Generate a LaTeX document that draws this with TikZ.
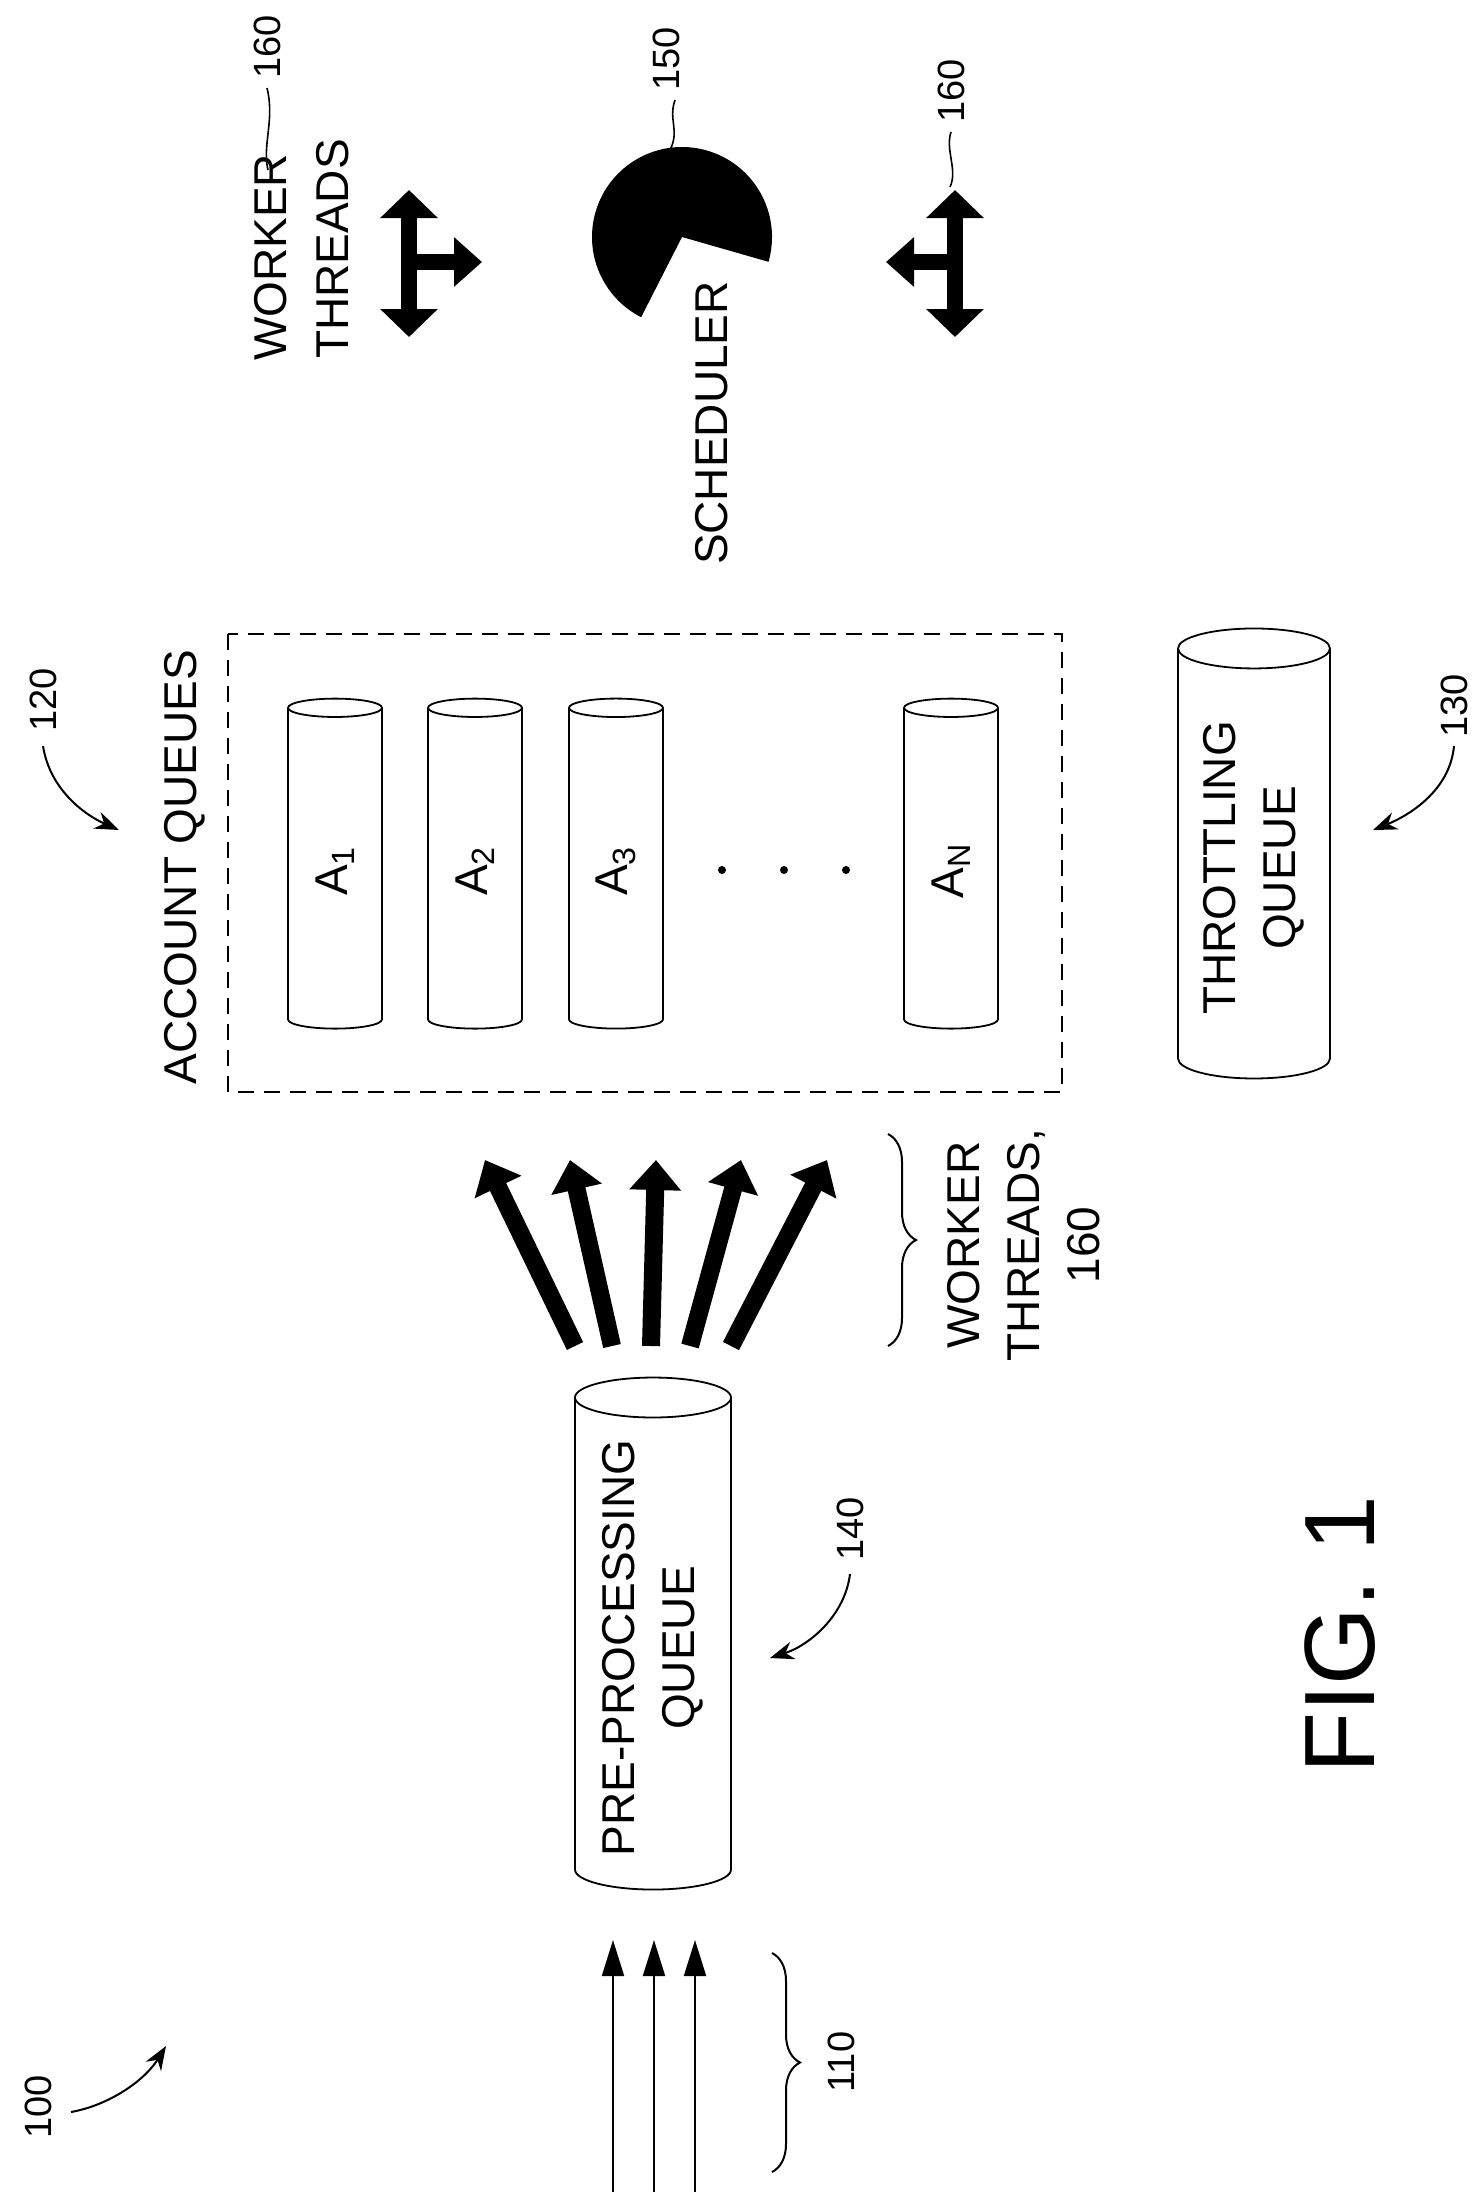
\documentclass[tikz,border=0pt]{standalone}
\usepackage{fontspec}
\setmainfont{Liberation Sans}
\usetikzlibrary{
  arrows.meta,
  positioning,
  calc,
  shapes.geometric,
  decorations.pathreplacing
}
\tikzset{
  queue/.style      = {cylinder, draw, line width=0.9pt, rotate=90, aspect=0.35,
                       align=center, font=\fontsize{23}{30}\selectfont},
  caption/.style    = {rotate=90, font=\fontsize{23}{30}\selectfont, align=center},
  refnum/.style     = {rotate=90, font=\fontsize{19}{22}\selectfont},
  refarrow/.style   = {line width=1pt, -{Stealth[length=12pt,width=9pt]}},
  thread/.style     = {line width=9pt, -{Triangle[length=15pt,width=25pt]}},
  bithread/.style   = {line width=8pt, {Triangle[length=14pt,width=28pt]}-{Triangle[length=14pt,width=28pt]}},
  branch/.style     = {line width=8pt, -{Triangle[length=14pt,width=24pt]}},
  input/.style      = {line width=1pt, -{Triangle[length=18pt,width=11pt]}},
  squiggle/.style   = {line width=0.8pt},
  curly/.style      = {line width=1pt, decorate, decoration={brace, amplitude=14pt}}
}
\begin{document}
\begin{tikzpicture}[x=0.5pt, y=-0.5pt]
  \useasboundingbox (0,0) rectangle (1482,2192);

  % Scheduler and worker threads
  \coordinate (sched) at (682,237);
  \fill (sched) -- ++(16:90) arc[start angle=16, end angle=-243, radius=90] -- cycle;
  \node[caption, anchor=west] (schedtxt) at (712,572) {SCHEDULER};
  \draw[squiggle] (670,150) .. controls (680,130) and (668,120) .. (675,100);
  \node[refnum, anchor=west] (n150) at (666,98) {150};

  \coordinate (lwtop) at (409,190);
  \coordinate (lwbot) at (409,337);
  \coordinate (lwmid) at (409,262);
  \coordinate (lwout) at (482,262);
  \draw[bithread] (lwbot) -- (lwtop);
  \draw[branch] (lwmid) -- (lwout);
  \node[caption, anchor=west] (wtxt) at (271,368) {WORKER};
  \node[caption, anchor=west] (ttxt) at (333,366) {THREADS};
  \draw[squiggle] (268,170) .. controls (262,145) and (275,120) .. (267,88);
  \node[refnum, anchor=west] (n160a) at (267,86) {160};

  \coordinate (rwtop) at (955,190);
  \coordinate (rwbot) at (955,337);
  \coordinate (rwmid) at (955,262);
  \coordinate (rwout) at (886,262);
  \draw[bithread] (rwbot) -- (rwtop);
  \draw[branch] (rwmid) -- (rwout);
  \draw[squiggle] (950,187) .. controls (958,170) and (945,150) .. (951,132);
  \node[refnum, anchor=west] (n160b) at (951,130) {160};

  % Account queues
  \draw[line width=1pt, dash pattern=on 8pt off 5pt] (228,634) rectangle (1062,1092);
  \node[caption] (acctxt) at (185,867) {ACCOUNT QUEUES};
  \node[queue, minimum height=165pt, minimum width=47pt] (a1) at (335,871) {A\textsubscript{1}};
  \node[queue, minimum height=165pt, minimum width=47pt] (a2) at (475,871) {A\textsubscript{2}};
  \node[queue, minimum height=165pt, minimum width=47pt] (a3) at (616,871) {A\textsubscript{3}};
  \node[queue, minimum height=165pt, minimum width=47pt] (an) at (951,871) {A\textsubscript{N}};
  \foreach \x in {722,784,846}
    \fill (\x,870) circle (4);
  \node[refnum] (n120) at (43,700) {120};
  \draw[refarrow] (43,746) .. controls (50,790) and (85,815) .. (119,830);

  % Throttling queue
  \node[queue, minimum height=225pt, minimum width=76pt] (thr) at (1254,868)
    {THROTTLING\\QUEUE};
  \node[refnum] (n130) at (1454,706) {130};
  \draw[refarrow] (1454,746) .. controls (1450,790) and (1410,815) .. (1373,830);

  % Worker threads into the account queues
  \node[queue, minimum height=256pt, minimum width=78pt] (pre) at (653,1648)
    {PRE-PROCESSING\\QUEUE};
  \foreach \s/\t in {575/485, 612/570, 651/656, 690/741, 731/827}
    \draw[thread] (\s,1346) -- (\t,1160);
  \draw[curly] (888,1134) -- (888,1346);
  \node[caption] (wt160) at (1024,1245) {WORKER\\THREADS,\\160};

  % Pre-processing queue and incoming requests
  \node[refnum] (n140) at (850,1529) {140};
  \draw[refarrow] (850,1574) .. controls (845,1615) and (810,1645) .. (770,1658);
  \foreach \x in {613,654,695}
    \draw[input] (\x,2192) -- (\x,1940);
  \draw[curly] (772,1953) -- (772,2172);
  \node[refnum] (n110) at (841,2062) {110};
  \node[refnum] (n100) at (38,2107) {100};
  \draw[refarrow] (71,2112) .. controls (110,2105) and (145,2080) .. (166,2046);

  \node[rotate=90, font=\fontsize{50}{56}\selectfont] (fig) at (1340,1635) {FIG. 1};
\end{tikzpicture}
\end{document}
